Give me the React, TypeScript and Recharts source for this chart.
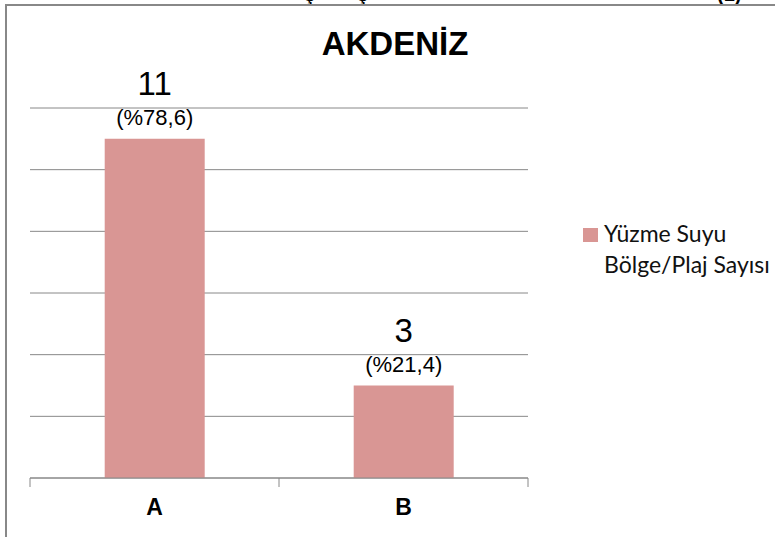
import React from 'react';
import { BarChart, Bar, XAxis, YAxis, CartesianGrid, LabelList, Legend } from 'recharts';

/* ─── Data ─────────────────────────────────────────────────────────────── */

const TITLE = 'AKDENİZ';
const CATEGORIES = ['A', 'B'];
const COUNTS = [11, 3];
const PERCENTS = ['(%78,6)', '(%21,4)'];
const Y_TICKS = [0, 2, 4, 6, 8, 10, 12];
const SERIES_NAME = 'Yüzme Suyu Bölge/Plaj Sayısı';
const LEGEND_LINES = ['Yüzme Suyu', 'Bölge/Plaj Sayısı'];

const data = CATEGORIES.map((name, i) => ({ name, count: COUNTS[i] }));

/* ─── Look ─────────────────────────────────────────────────────────────── */

const W = 775;
const H = 537;
const MARGIN = { top: 108, right: 247, bottom: 29, left: 30 };
const HALF_BAND = (W - MARGIN.left - MARGIN.right) / CATEGORIES.length / 2;
const BAR_FILL = '#D99694';
const GRID = '#888888';
const FONT = '"Liberation Sans", Arial, sans-serif';

function CategoryTick(props: any) {
  const { x, y, payload, index } = props;
  const last = index === CATEGORIES.length - 1;
  return (
    <g>
      <line x1={x - HALF_BAND} x2={x - HALF_BAND} y1={y - 8} y2={y + 1} stroke={GRID} />
      {last && <line x1={x + HALF_BAND} x2={x + HALF_BAND} y1={y - 8} y2={y + 1} stroke={GRID} />}
      <text x={x} y={y + 29} textAnchor="middle" fontFamily={FONT} fontWeight="bold"
        fontSize={23} fill="#000">{payload.value}</text>
    </g>
  );
}

function BarTopLabel(props: any) {
  const { x, y, width, value, index } = props;
  const cx = Number(x) + Number(width) / 2;
  return (
    <g>
      <text x={cx} y={Number(y) - 44} textAnchor="middle" fontFamily={FONT} fontSize={33} fill="#000">
        {value}
      </text>
      <text x={cx} y={Number(y) - 14} textAnchor="middle" fontFamily={FONT} fontSize={22} fill="#000">
        {PERCENTS[index]}
      </text>
    </g>
  );
}

function LegendBox({ payload }: any) {
  const color = payload?.[0]?.color ?? BAR_FILL;
  return (
    <div style={{ display: 'flex', alignItems: 'flex-start', fontFamily: 'Lato, sans-serif',
      fontSize: 23, lineHeight: '31px', color: '#111' }}>
      <span style={{ width: 15, height: 14, background: color, marginTop: 10, marginRight: 6, flex: 'none' }} />
      <div>{LEGEND_LINES.map((l) => <div key={l} style={{ whiteSpace: 'nowrap' }}>{l}</div>)}</div>
    </div>
  );
}

export default function App() {
  return (
    <div style={{ position: 'fixed', left: 0, top: 0, width: W, height: H, overflow: 'hidden', background: '#fff' }}>
      {/* cut-off line of the slide text above the chart frame */}
      <div style={{ position: 'absolute', left: 0, top: 0, width: W, height: 4, overflow: 'hidden',
        fontFamily: FONT, fontWeight: 'bold', fontSize: 20, lineHeight: '20px' }}>
        <span style={{ position: 'absolute', left: 304, top: -16 }}>ş</span>
        <span style={{ position: 'absolute', left: 357, top: -16 }}>ş</span>
        <span style={{ position: 'absolute', left: 717, top: -16 }}>(1)</span>
      </div>
      <div style={{ position: 'absolute', left: 5, top: 4, width: W + 20, height: H + 20,
        borderLeft: '2px solid #888', borderTop: '2px solid #888' }} />
      <div style={{ position: 'absolute', left: 295, top: 27, width: 200, textAlign: 'center',
        fontFamily: FONT, fontWeight: 'bold', fontSize: 33, lineHeight: '33px', color: '#000' }}>
        {TITLE}
      </div>
      <div style={{ position: 'absolute', left: 0, top: 0 }}>
        <BarChart width={W} height={H} data={data} margin={MARGIN} barCategoryGap="30%">
          <CartesianGrid horizontal vertical={false} stroke={GRID} />
          <XAxis dataKey="name" height={30} axisLine={{ stroke: GRID }} tickLine={false}
            tick={<CategoryTick />} interval={0} />
          <YAxis hide domain={[0, 12]} ticks={Y_TICKS} />
          <Legend layout="horizontal" verticalAlign="middle" align="center" content={<LegendBox />}
            wrapperStyle={{ left: 583, top: 218, width: 'auto' }} />
          <Bar dataKey="count" name={SERIES_NAME} fill={BAR_FILL} isAnimationActive={false}>
            <LabelList dataKey="count" content={<BarTopLabel />} />
          </Bar>
        </BarChart>
      </div>
    </div>
  );
}
